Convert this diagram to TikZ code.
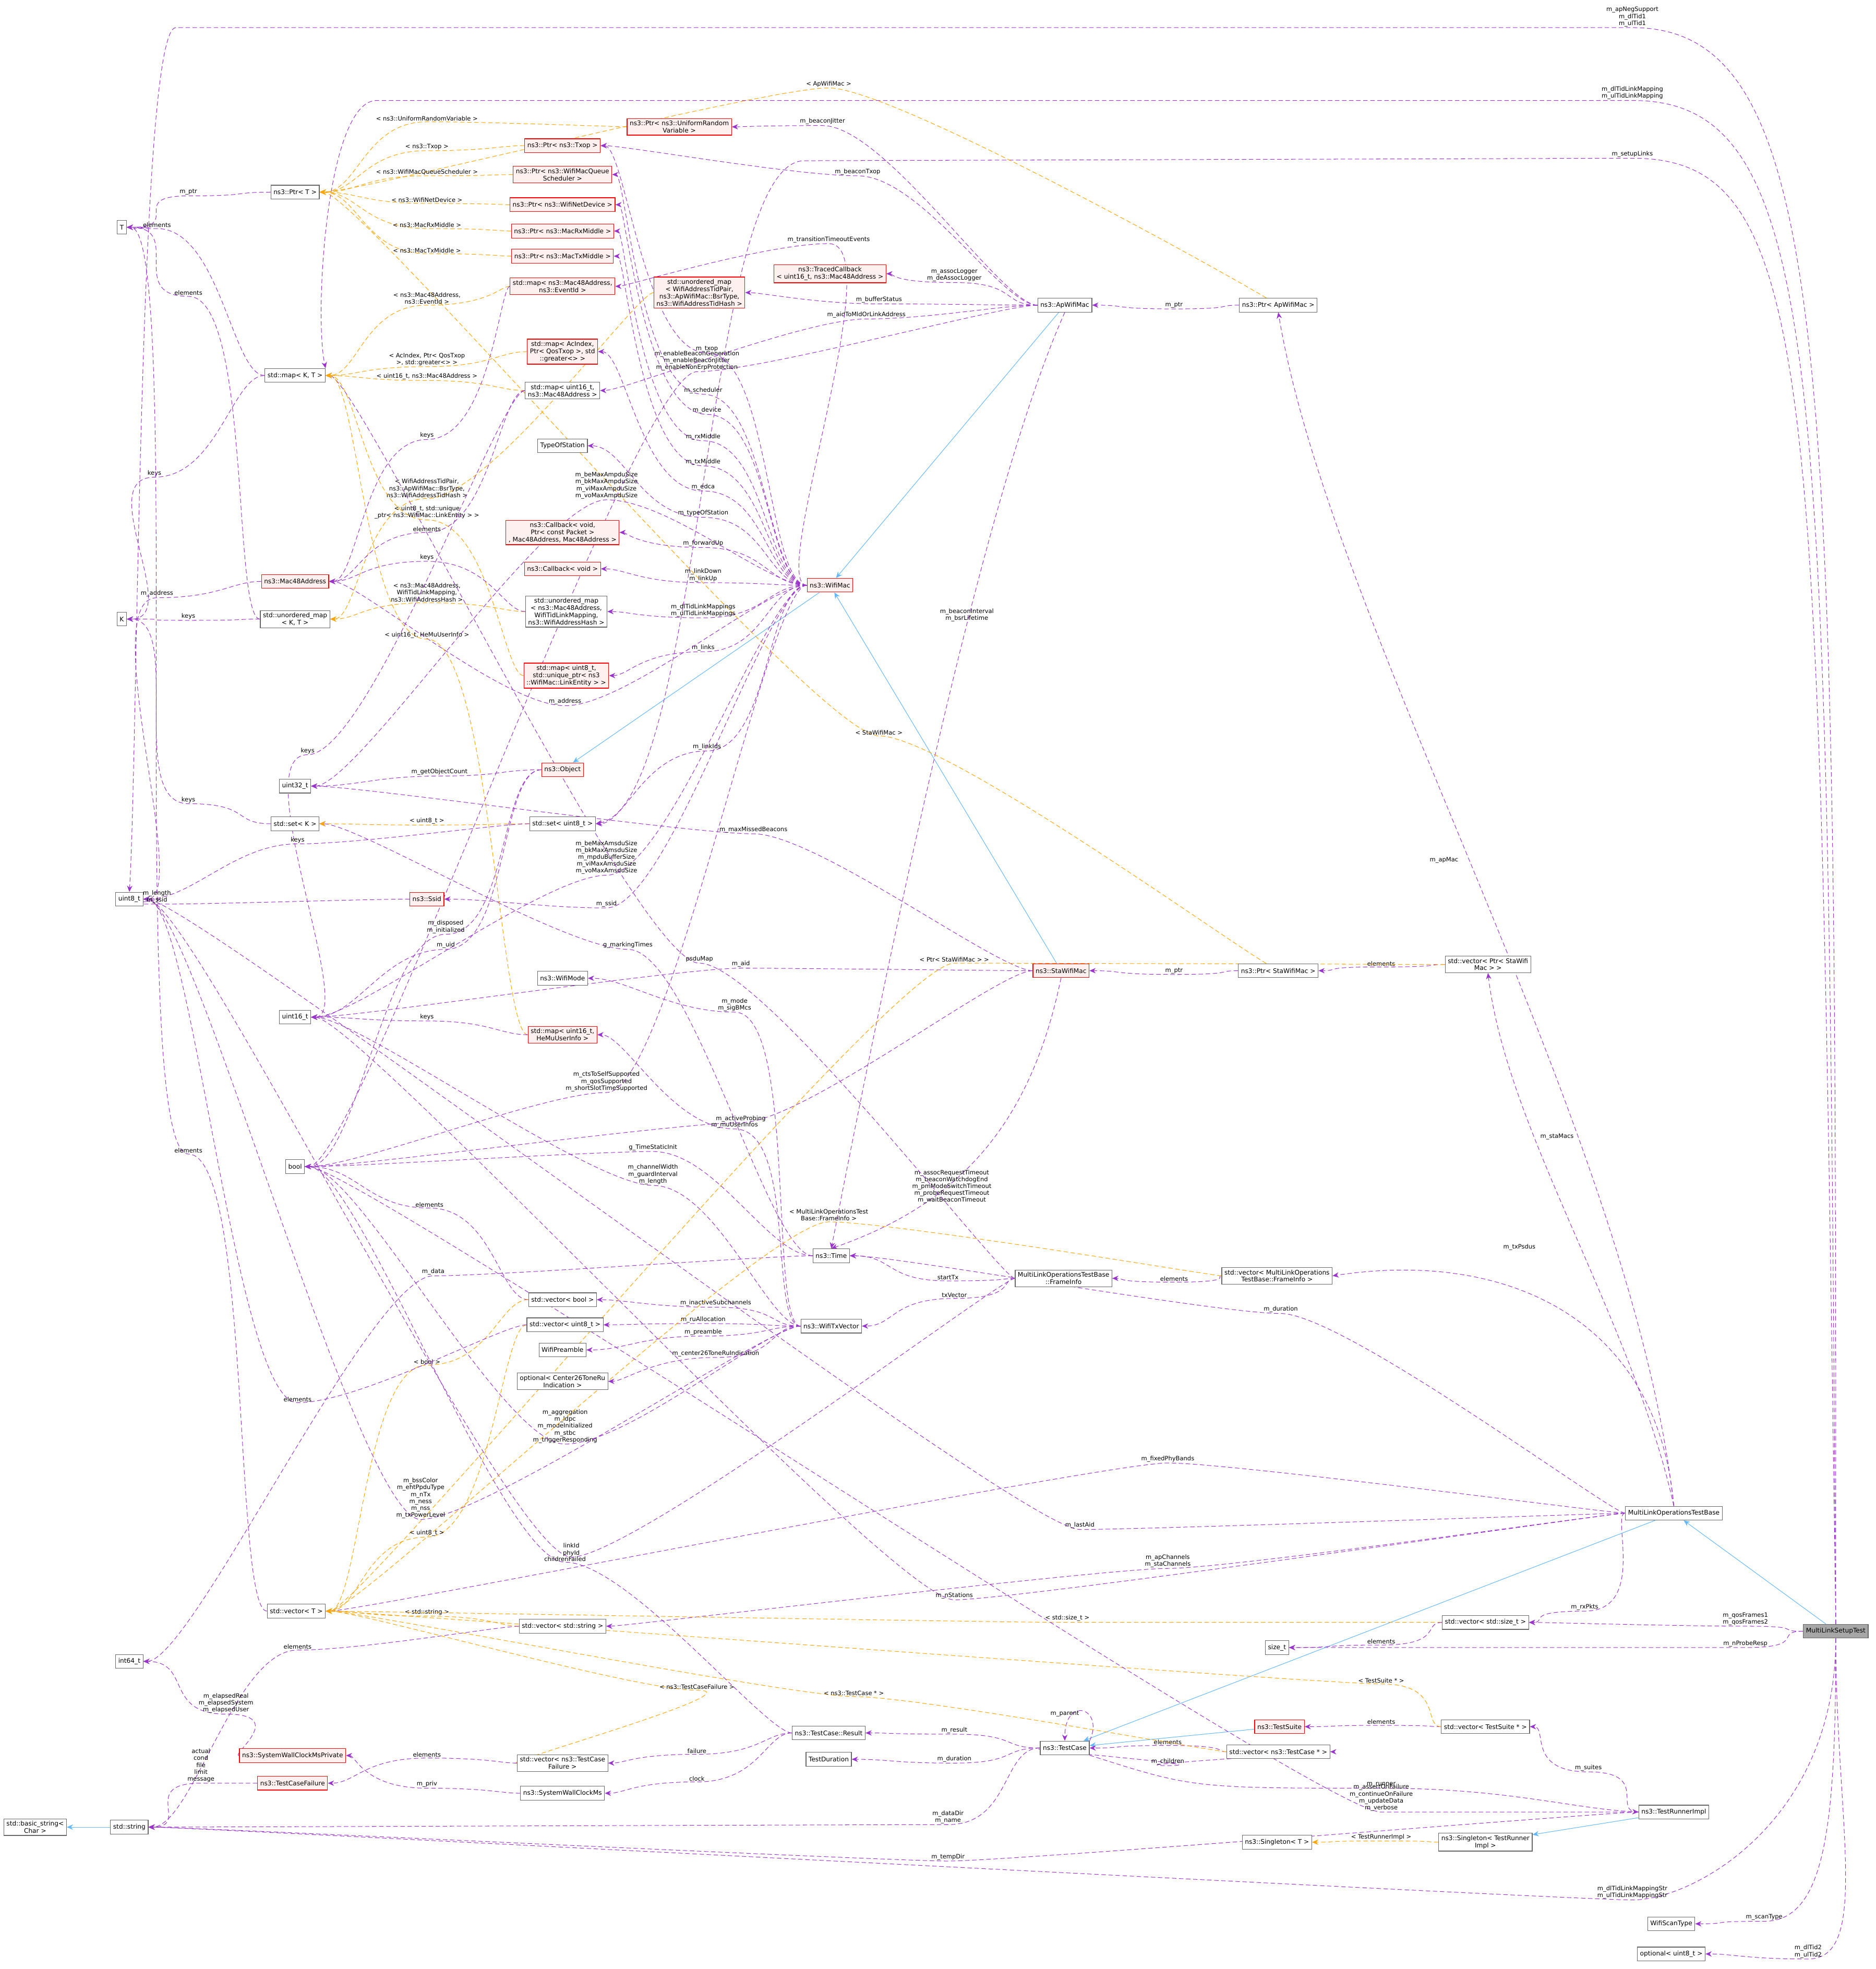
\documentclass[tikz,border=0pt]{standalone}
\usepackage{fontspec}
\setmainfont{DejaVu Sans}
\usetikzlibrary{arrows.meta,backgrounds}
\definecolor{pur}{HTML}{9A32CD}
\definecolor{org}{HTML}{FFA500}
\definecolor{blu}{HTML}{63B8FF}
\definecolor{bord}{HTML}{666666}
\definecolor{rbord}{HTML}{FF0000}
\definecolor{rfill}{HTML}{FFF0F0}
\newcommand\E[6][-50,0]{\draw[#2] (#3) .. controls +(#1) and +(50,0) .. (#5) .. controls +(-50,0) and +(50,0) .. (#4); \node[lbl] at (#5) {#6};}
\newcommand\EC[7]{\draw[#1] (#2) .. controls (#4) and (#5) .. (#3); \node[lblc] at (#6) {#7};}
\begin{document}
\begin{tikzpicture}[x=0.05cm,y=-0.05cm,
 box/.style={draw=bord,fill=white,font=\fontsize{7.2}{8.2}\selectfont,align=center,inner xsep=3pt,inner ysep=2.5pt,minimum height=0.55cm,line width=0.7pt},
 rbox/.style={box,draw=rbord,fill=rfill},
 mbox/.style={box,fill=gray!70},
 use/.style={draw=pur,dashed,dash pattern=on 5pt off 3pt,line width=0.6pt,-{Stealth[length=7pt,width=6pt]}},
 tmpl/.style={use,draw=org},
 inh/.style={draw=blu,line width=0.6pt,-{Stealth[length=7pt,width=6pt]}},
 lbl/.style={font=\fontsize{6.8}{7.8}\selectfont,align=center,anchor=south,inner sep=1pt},
 lblc/.style={lbl,anchor=center}]
\useasboundingbox (0,0) rectangle (1494,1568);
% nodes
\node[mbox] (mlst) at (1462,1299) {MultiLinkSetupTest};
\node[box] (mlotb) at (1333,1205) {MultiLinkOperationsTestBase};
\node[box] (apmac) at (848,243) {ns3::ApWifiMac};
\node[box] (ptrap) at (1018,243) {ns3::Ptr< ApWifiMac >};
\node[rbox] (wmac) at (661,466) {ns3::WifiMac};
\node[rbox] (stamac) at (845,773) {ns3::StaWifiMac};
\node[box] (ptrsta) at (1018,773) {ns3::Ptr< StaWifiMac >};
\node[box] (vecsta) at (1185,768) {std::vector< Ptr< StaWifi\\Mac > >};
\node[box] (time) at (662,1000) {ns3::Time};
\node[box] (finfo) at (847,1018) {MultiLinkOperationsTestBase\\::FrameInfo};
\node[box] (vecfi) at (1017,1016) {std::vector< MultiLinkOperations\\TestBase::FrameInfo >};
\node[box] (txv) at (662,1056) {ns3::WifiTxVector};
\node[box] (vbool) at (448,1035) {std::vector< bool >};
\node[box] (vu8) at (450,1055) {std::vector< uint8\_t >};
\node[box] (pream) at (448,1075) {WifiPreamble};
\node[box] (opt26) at (448,1100) {optional< Center26ToneRu\\Indication >};
\node[box] (tcase) at (848,1392) {ns3::TestCase};
\node[box] (tres) at (660,1380) {ns3::TestCase::Result};
\node[box] (tdur) at (660,1401) {TestDuration};
\node[rbox] (tsuite) at (1019,1375) {ns3::TestSuite};
\node[box] (vtc) at (1018,1395) {std::vector< ns3::TestCase * >};
\node[box] (vts) at (1183,1375) {std::vector< TestSuite * >};
\node[box] (trun) at (1333,1443) {ns3::TestRunnerImpl};
\node[box] (singr) at (1183,1467) {ns3::Singleton< TestRunner\\Impl >};
\node[box] (singt) at (1017,1467) {ns3::Singleton< T >};
\node[box] (vsize) at (1183,1292) {std::vector< std::size\_t >};
\node[box] (sizet) at (1017,1312) {size\_t};
\node[box] (scan) at (1331,1532) {WifiScanType};
\node[box] (optu8) at (1331,1556) {optional< uint8\_t >};
\node[box] (vstr) at (448,1295) {std::vector< std::string >};
\node[box] (vtcf) at (448,1404) {std::vector< ns3::TestCase\\Failure >};
\node[box] (swc) at (448,1428) {ns3::SystemWallClockMs};
\node[rbox] (swcp) at (233,1398) {ns3::SystemWallClockMsPrivate};
\node[rbox] (tcf) at (233,1420) {ns3::TestCaseFailure};
\node[box] (str) at (103,1455) {std::string};
\node[box] (bstr) at (28,1455) {std::basic\_string<\\Char >};
\node[box] (i64) at (103,1323) {int64\_t};
\node[box] (vecT) at (236,1283) {std::vector< T >};
\node[box] (u8) at (103,716) {uint8\_t};
\node[box] (u16) at (235,810) {uint16\_t};
\node[box] (bool) at (235,929) {bool};
\node[box] (u32) at (235,626) {uint32\_t};
\node[box] (setK) at (235,656) {std::set< K >};
\node[box] (K) at (97,493) {K};
\node[box] (T) at (97,181) {T};
\node[box] (ptrT) at (235,153) {ns3::Ptr< T >};
\node[box] (mapKT) at (235,299) {std::map< K, T >};
\node[box] (umapKT) at (235,493) {std::unordered\_map\\< K, T >};
\node[rbox] (mac) at (235,463) {ns3::Mac48Address};
\node[rbox] (ssid) at (340,716) {ns3::Ssid};
\node[box] (wmode) at (448,779) {ns3::WifiMode};
\node[rbox] (mapmu) at (448,824) {std::map< uint16\_t,\\HeMuUserInfo >};
\node[box] (setu8) at (448,656) {std::set< uint8\_t >};
\node[rbox] (obj) at (448,613) {ns3::Object};
\node[rbox] (maplink) at (451,538) {std::map< uint8\_t,\\std::unique\_ptr< ns3\\::WifiMac::LinkEntity > >};
\node[box] (umapmac) at (451,487) {std::unordered\_map\\< ns3::Mac48Address,\\WifiTidLinkMapping,\\ns3::WifiAddressHash >};
\node[rbox] (cbv) at (448,453) {ns3::Callback< void >};
\node[rbox] (cbpkt) at (448,424) {ns3::Callback< void,\\Ptr< const Packet >\\, Mac48Address, Mac48Address >};
\node[box] (tos) at (448,355) {TypeOfStation};
\node[box] (mapu16) at (448,311) {std::map< uint16\_t,\\ns3::Mac48Address >};
\node[rbox] (mapac) at (448,280) {std::map< AcIndex,\\Ptr< QosTxop >, std\\::greater<> >};
\node[rbox] (mapev) at (448,228) {std::map< ns3::Mac48Address,\\ns3::EventId >};
\node[rbox] (ptrtxm) at (448,204) {ns3::Ptr< ns3::MacTxMiddle >};
\node[rbox] (ptrrxm) at (448,184) {ns3::Ptr< ns3::MacRxMiddle >};
\node[rbox] (ptrdev) at (448,163) {ns3::Ptr< ns3::WifiNetDevice >};
\node[rbox] (ptrsch) at (448,139) {ns3::Ptr< ns3::WifiMacQueue\\Scheduler >};
\node[rbox] (ptrtxop) at (448,116) {ns3::Ptr< ns3::Txop >};
\node[rbox] (ptrurv) at (541,101) {ns3::Ptr< ns3::UniformRandom\\Variable >};
\node[rbox] (umapbsr) at (557,233) {std::unordered\_map\\< WifiAddressTidPair,\\ns3::ApWifiMac::BsrType,\\ns3::WifiAddressTidHash >};
\node[rbox] (traced) at (661,218) {ns3::TracedCallback\\< uint16\_t, ns3::Mac48Address >};
\begin{scope}[on background layer]
\fill[white] (0,0) rectangle (1494,1568);
% MultiLinkSetupTest
\draw[use] (mlst.north) .. controls (1462,300) and (1462,22) .. (1300,22) -- (140,22) .. controls (110,22) and (110,600) .. (u8.north);
\node[lbl] at (1300,22) {m\_apNegSupport\\m\_dlTid1\\m\_ulTid1};
\draw[use] (mlst.north) .. controls (1455,300) and (1455,80) .. (1300,80) -- (300,80) .. controls (260,80) and (250,250) .. (mapKT.north east);
\node[lbl] at (1300,80) {m\_dlTidLinkMapping\\m\_ulTidLinkMapping};
\draw[use] (mlst.north) .. controls (1448,300) and (1448,126) .. (1300,126) -- (640,128) .. controls (560,130) and (560,640) .. (setu8.east);
\node[lbl] at (1300,126) {m\_setupLinks};
\E{use}{mlst}{vsize}{1390,1295}{m\_qosFrames1\\m\_qosFrames2}
\E{use}{mlst}{sizet}{1390,1312}{m\_nProbeResp}
\E[0,150]{use}{mlst}{str}{1300,1513}{m\_dlTidLinkMappingStr\\m\_ulTidLinkMappingStr}
\E[0,150]{use}{mlst}{scan}{1405,1530}{m\_scanType}
\E[0,150]{use}{mlst}{optu8}{1440,1560}{m\_dlTid2\\m\_ulTid2}
\draw[inh] (mlst) -- (mlotb);
% MultiLinkOperationsTestBase
\EC{use}{mlotb.north}{ptrap.south}{1300,900}{1060,500}{1150,685}{m\_apMac}
\EC{use}{mlotb.north}{vecsta.south}{1300,1050}{1200,900}{1240,905}{m\_staMacs}
\EC{use}{mlotb.north}{vecfi.east}{1320,1050}{1200,995}{1210,993}{m\_txPsdus}
\E{use}{mlotb}{time}{1020,1046}{m\_duration}
\E{use}{mlotb}{vecT}{930,1165}{m\_fixedPhyBands}
\E{use}{mlotb}{u8}{860,1218}{m\_lastAid}
\E{use}{mlotb}{vstr}{930,1249}{m\_apChannels\\m\_staChannels}
\E{use}{mlotb}{u16}{760,1274}{m\_nStations}
\E{use}{mlotb}{vsize}{1262,1283}{m\_rxPkts}
\draw[inh] (mlotb) -- (tcase);
% ApWifiMac
\draw[inh] (apmac) -- (wmac);
\E{use}{apmac}{ptrurv}{655,100}{m\_beaconJitter}
\E{use}{apmac}{ptrtxop}{683,140}{m\_beaconTxop}
\E{use}{apmac}{traced}{760,225}{m\_assocLogger\\m\_deAssocLogger}
\E{use}{apmac}{umapbsr}{700,242}{m\_bufferStatus}
\E{use}{apmac}{mapu16}{690,254}{m\_aidToMldOrLinkAddress}
\E{use}{apmac}{bool}{555,296}{m\_enableBeaconGeneration\\m\_enableBeaconJitter\\m\_enableNonErpProtection}
\EC{use}{apmac.south}{time.north}{780,400}{700,800}{770,490}{m\_beaconInterval\\m\_bsrLifetime}
\E{use}{ptrap}{apmac}{935,246}{m\_ptr}
\E[-50,-30]{tmpl}{ptrap}{ptrT}{660,70}{< ApWifiMac >}
% StaWifiMac / Ptr
\draw[inh] (stamac) -- (wmac);
\E{use}{stamac}{u16}{590,771}{m\_aid}
\E{use}{stamac}{u32}{600,664}{m\_maxMissedBeacons}
\E{use}{stamac}{bool}{590,894}{m\_activeProbing}
\EC{use}{stamac.south}{time.north}{820,900}{760,960}{758,945}{m\_assocRequestTimeout\\m\_beaconWatchdogEnd\\m\_pmModeSwitchTimeout\\m\_probeRequestTimeout\\m\_waitBeaconTimeout}
\E{use}{ptrsta}{stamac}{935,776}{m\_ptr}
\E[-50,-30]{tmpl}{ptrsta}{ptrT}{700,586}{< StaWifiMac >}
\E{use}{vecsta}{ptrsta}{1100,770}{elements}
\E{tmpl}{vecsta}{vecT}{760,767}{< Ptr< StaWifiMac > >}
% WifiMac
\draw[inh] (wmac) -- (obj);
\E{use}{wmac}{ptrtxop}{563,281}{m\_txop}
\E{use}{wmac}{mapev}{660,194}{m\_transitionTimeoutEvents}
\E{use}{wmac}{ptrsch}{560,314}{m\_scheduler}
\E{use}{wmac}{ptrdev}{563,330}{m\_device}
\E{use}{wmac}{ptrrxm}{560,351}{m\_rxMiddle}
\E{use}{wmac}{ptrtxm}{560,371}{m\_txMiddle}
\E{use}{wmac}{mapac}{560,391}{m\_edca}
\E{use}{wmac}{tos}{560,412}{m\_typeOfStation}
\E{use}{wmac}{cbpkt}{560,436}{m\_forwardUp}
\E{use}{wmac}{cbv}{560,464}{m\_linkDown\\m\_linkUp}
\E{use}{wmac}{umapmac}{560,492}{m\_dlTidLinkMappings\\m\_ulTidLinkMappings}
\E{use}{wmac}{maplink}{560,519}{m\_links}
\E{use}{wmac}{mac}{450,562}{m\_address}
\E{use}{wmac}{setu8}{563,598}{m\_linkIds}
\E{use}{wmac}{u16}{483,697}{m\_beMaxAmsduSize\\m\_bkMaxAmsduSize\\m\_mpduBufferSize\\m\_viMaxAmsduSize\\m\_voMaxAmsduSize}
\E{use}{wmac}{u32}{483,398}{m\_beMaxAmpduSize\\m\_bkMaxAmpduSize\\m\_viMaxAmpduSize\\m\_voMaxAmpduSize}
\E{use}{wmac}{ssid}{483,723}{m\_ssid}
\E{use}{wmac}{bool}{483,870}{m\_ctsToSelfSupported\\m\_qosSupported\\m\_shortSlotTimeSupported}
% Object
\E{use}{obj}{u32}{350,618}{m\_getObjectCount}
\E{use}{obj}{bool}{355,744}{m\_disposed\\m\_initialized}
\E{use}{obj}{u16}{355,756}{m\_uid}
% Time
\E{use}{time}{setK}{500,756}{g\_markingTimes}
\E{use}{time}{i64}{345,1016}{m\_data}
\E{use}{time}{bool}{520,917}{g\_TimeStaticInit}
% WifiTxVector
\E{use}{txv}{u16}{520,944}{m\_channelWidth\\m\_guardInterval\\m\_length}
\E{use}{txv}{wmode}{585,806}{m\_mode\\m\_sigBMcs}
\E{use}{txv}{mapmu}{585,899}{m\_muUserInfos}
\E{use}{txv}{vbool}{570,1041}{m\_inactiveSubchannels}
\E{use}{txv}{vu8}{560,1054}{m\_ruAllocation}
\E{use}{txv}{pream}{560,1064}{m\_preamble}
\E{use}{txv}{opt26}{570,1081}{m\_center26ToneRuIndication}
\E{use}{txv}{bool}{450,1150}{m\_aggregation\\m\_ldpc\\m\_modeInitialized\\m\_stbc\\m\_triggerResponding}
\E{use}{txv}{u8}{335,1210}{m\_bssColor\\m\_ehtPpduType\\m\_nTx\\m\_ness\\m\_nss\\m\_txPowerLevel}
% FrameInfo
\E{use}{finfo}{time}{755,1020}{startTx}
\E{use}{finfo}{txv}{760,1034}{txVector}
\E{use}{finfo}{u8}{455,1240}{linkId\\phyId}
\E{use}{finfo}{mapKT}{557,767}{psduMap}
\E{use}{vecfi}{finfo}{935,1021}{elements}
\E{tmpl}{vecfi}{vecT}{660,973}{< MultiLinkOperationsTest\\Base::FrameInfo >}
% vectors
\E{use}{vbool}{bool}{342,962}{elements}
\E{tmpl}{vbool}{vecT}{340,1087}{< bool >}
\E{tmpl}{vu8}{vecT}{340,1224}{< uint8\_t >}
\E{use}{vu8}{u8}{237,1117}{elements}
\E{tmpl}{vstr}{vecT}{340,1287}{< std::string >}
\E{use}{vstr}{str}{237,1314}{elements}
\E{tmpl}{vsize}{vecT}{850,1292}{< std::size\_t >}
\E{use}{vsize}{sizet}{1100,1310}{elements}
\E{tmpl}{vtcf}{vecT}{555,1346}{< ns3::TestCaseFailure >}
\E{use}{vtcf}{tcf}{340,1400}{elements}
\E{use}{swc}{swcp}{340,1424}{m\_priv}
\E{use}{swcp}{i64}{180,1365}{m\_elapsedReal\\m\_elapsedSystem\\m\_elapsedUser}
\E{use}{tcf}{str}{160,1420}{actual\\cond\\file\\limit\\message}
\draw[inh] (str) -- (bstr);
% TestCase
\E{use}{tres}{vtcf}{555,1397}{failure}
\E{use}{tres}{swc}{555,1419}{clock}
\E{use}{tres}{bool}{450,1244}{childrenFailed}
\E{use}{tcase}{tres}{760,1381}{m\_result}
\E{use}{tcase}{tdur}{760,1404}{m\_duration}
\draw[use] (tcase.north east) .. controls (880,1360) and (848,1350) .. (tcase.north);
\node[lbl] at (848,1368) {m\_parent};
\E{use}{tcase}{vtc}{930,1406}{m\_children}
\draw[use] (tcase.south east) .. controls (950,1424) .. (1100,1424) .. controls (1200,1424) and (1250,1440) .. (trun.west);
\node[lbl] at (1100,1424) {m\_runner};
\E{use}{tcase}{str}{755,1453}{m\_dataDir\\m\_name}
\draw[inh] (tsuite) -- (tcase);
\E{use}{vtc}{tcase}{930,1390}{elements}
\E{tmpl}{vtc}{vecT}{680,1351}{< ns3::TestCase * >}
\E{use}{vts}{tsuite}{1100,1374}{elements}
\E{tmpl}{vts}{vecT}{1100,1341}{< TestSuite * >}
\E{use}{trun}{vts}{1265,1411}{m\_suites}
\E{use}{trun}{bool}{1100,1443}{m\_assertOnFailure\\m\_continueOnFailure\\m\_updateData\\m\_verbose}
\E{use}{trun}{str}{755,1482}{m\_tempDir}
\draw[inh] (trun) -- (singr);
\E{tmpl}{singr}{singt}{1100,1466}{< TestRunnerImpl >}
% Ptr templates
\E{tmpl}{ptrurv}{ptrT}{340,97}{< ns3::UniformRandomVariable >}
\E{tmpl}{ptrtxop}{ptrT}{340,120}{< ns3::Txop >}
\E{tmpl}{ptrsch}{ptrT}{340,140}{< ns3::WifiMacQueueScheduler >}
\E{tmpl}{ptrdev}{ptrT}{340,162}{< ns3::WifiNetDevice >}
\E{tmpl}{ptrrxm}{ptrT}{340,182}{< ns3::MacRxMiddle >}
\E{tmpl}{ptrtxm}{ptrT}{340,202}{< ns3::MacTxMiddle >}
\E{tmpl}{mapev}{mapKT}{340,243}{< ns3::Mac48Address,\\ns3::EventId >}
\E{tmpl}{mapac}{mapKT}{340,292}{< AcIndex, Ptr< QosTxop\\>, std::greater<> >}
\E{tmpl}{mapu16}{mapKT}{340,303}{< uint16\_t, ns3::Mac48Address >}
\E{tmpl}{umapbsr}{umapKT}{340,397}{< WifiAddressTidPair,\\ns3::ApWifiMac::BsrType,\\ns3::WifiAddressTidHash >}
\E{tmpl}{maplink}{mapKT}{340,414}{< uint8\_t, std::unique\\\_ptr< ns3::WifiMac::LinkEntity > >}
\E{tmpl}{umapmac}{umapKT}{340,480}{< ns3::Mac48Address,\\WifiTidLinkMapping,\\ns3::WifiAddressHash >}
\E{tmpl}{mapmu}{mapKT}{340,509}{< uint16\_t, HeMuUserInfo >}
\E{tmpl}{setu8}{setK}{340,657}{< uint8\_t >}
\E{use}{mapev}{mac}{340,350}{keys}
\E{use}{mapu16}{mac}{340,424}{elements}
\E{use}{mapu16}{u16}{245,601}{keys}
\E{use}{umapmac}{mac}{340,447}{keys}
\E{use}{mapmu}{u16}{340,813}{keys}
\E{use}{setu8}{u8}{237,672}{keys}
% left templates
\E{use}{ptrT}{T}{150,156}{m\_ptr}
\E{use}{mapKT}{T}{125,182}{elements}
\E{use}{mapKT}{K}{123,380}{keys}
\E{use}{umapKT}{K}{150,494}{keys}
\E{use}{umapKT}{T}{150,236}{elements}
\E{use}{setK}{K}{150,640}{keys}
\E{use}{vecT}{T}{150,919}{elements}
\E{use}{mac}{u8}{125,476}{m\_address}
\E{use}{ssid}{u8}{125,720}{m\_length\\m\_ssid}
\end{scope}
\end{tikzpicture}
\end{document}
